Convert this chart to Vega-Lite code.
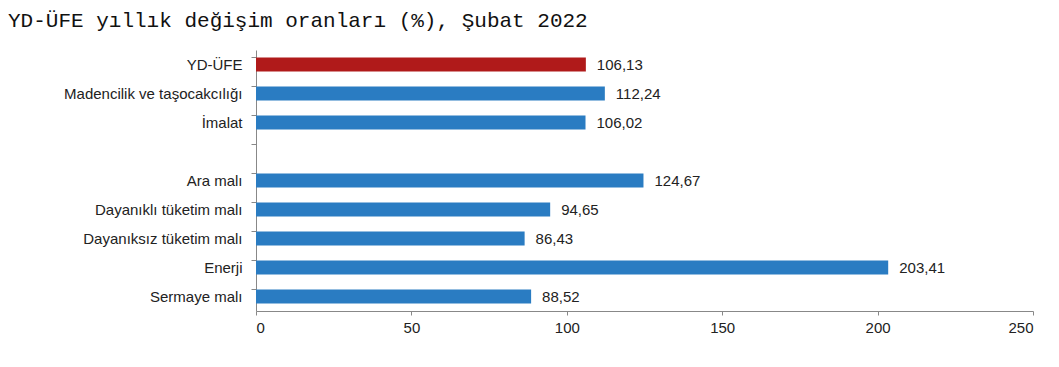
{
  "$schema": "https://vega.github.io/schema/vega-lite/v6.json",
  "autosize": "none",
  "width": 777,
  "height": 261,
  "padding": {"left": 256, "top": 50, "right": 26, "bottom": 56},
  "background": "white",
  "config": {
    "locale": {"number": {"decimal": ",", "thousands": ".", "grouping": [3], "currency": ["", " TL"]}},
    "view": {"stroke": null},
    "font": "Liberation Sans"
  },
  "title": {
    "text": "YD-ÜFE yıllık değişim oranları (%), Şubat 2022",
    "font": "Liberation Mono",
    "fontSize": 21,
    "fontWeight": "normal",
    "color": "#111111",
    "anchor": "start",
    "frame": "group",
    "dx": -248,
    "offset": 19
  },
  "data": {
    "values": [
      {"kategori": "YD-ÜFE", "deger": 106.13, "grup": "toplam"},
      {"kategori": "Madencilik ve taşocakcılığı", "deger": 112.24, "grup": "alt"},
      {"kategori": "İmalat", "deger": 106.02, "grup": "alt"},
      {"kategori": "Ara malı", "deger": 124.67, "grup": "alt"},
      {"kategori": "Dayanıklı tüketim malı", "deger": 94.65, "grup": "alt"},
      {"kategori": "Dayanıksız tüketim malı", "deger": 86.43, "grup": "alt"},
      {"kategori": "Enerji", "deger": 203.41, "grup": "alt"},
      {"kategori": "Sermaye malı", "deger": 88.52, "grup": "alt"}
    ]
  },
  "encoding": {
    "y": {
      "field": "kategori",
      "type": "nominal",
      "scale": {
        "domain": ["YD-ÜFE", "Madencilik ve taşocakcılığı", "İmalat", " ", "Ara malı", "Dayanıklı tüketim malı", "Dayanıksız tüketim malı", "Enerji", "Sermaye malı"],
        "paddingInner": 0.52,
        "paddingOuter": 0.26
      },
      "axis": {
        "title": null,
        "bandPosition": 0,
        "domainColor": "#888888",
        "tickColor": "#888888",
        "tickSize": 5,
        "labelFont": "Liberation Sans",
        "labelFontSize": 15,
        "labelColor": "#222222",
        "labelPadding": 9
      }
    },
    "x": {
      "field": "deger",
      "type": "quantitative",
      "scale": {"domain": [0, 250]},
      "axis": {
        "title": null,
        "values": [0, 50, 100, 150, 200, 250],
        "grid": false,
        "domainColor": "#888888",
        "tickColor": "#888888",
        "tickSize": 4,
        "labelFont": "Liberation Sans",
        "labelFontSize": 15,
        "labelColor": "#222222",
        "labelPadding": 5,
        "format": "d"
      }
    }
  },
  "layer": [
    {
      "mark": {"type": "bar"},
      "encoding": {
        "color": {
          "field": "grup",
          "type": "nominal",
          "scale": {"domain": ["toplam", "alt"], "range": ["#b01a1a", "#2a7cc2"]},
          "legend": null
        }
      }
    },
    {
      "mark": {"type": "text", "align": "left", "dx": 11, "font": "Liberation Sans", "fontSize": 15, "color": "#222222"},
      "encoding": {
        "text": {"field": "deger", "type": "quantitative", "format": ".2f"}
      }
    }
  ]
}
